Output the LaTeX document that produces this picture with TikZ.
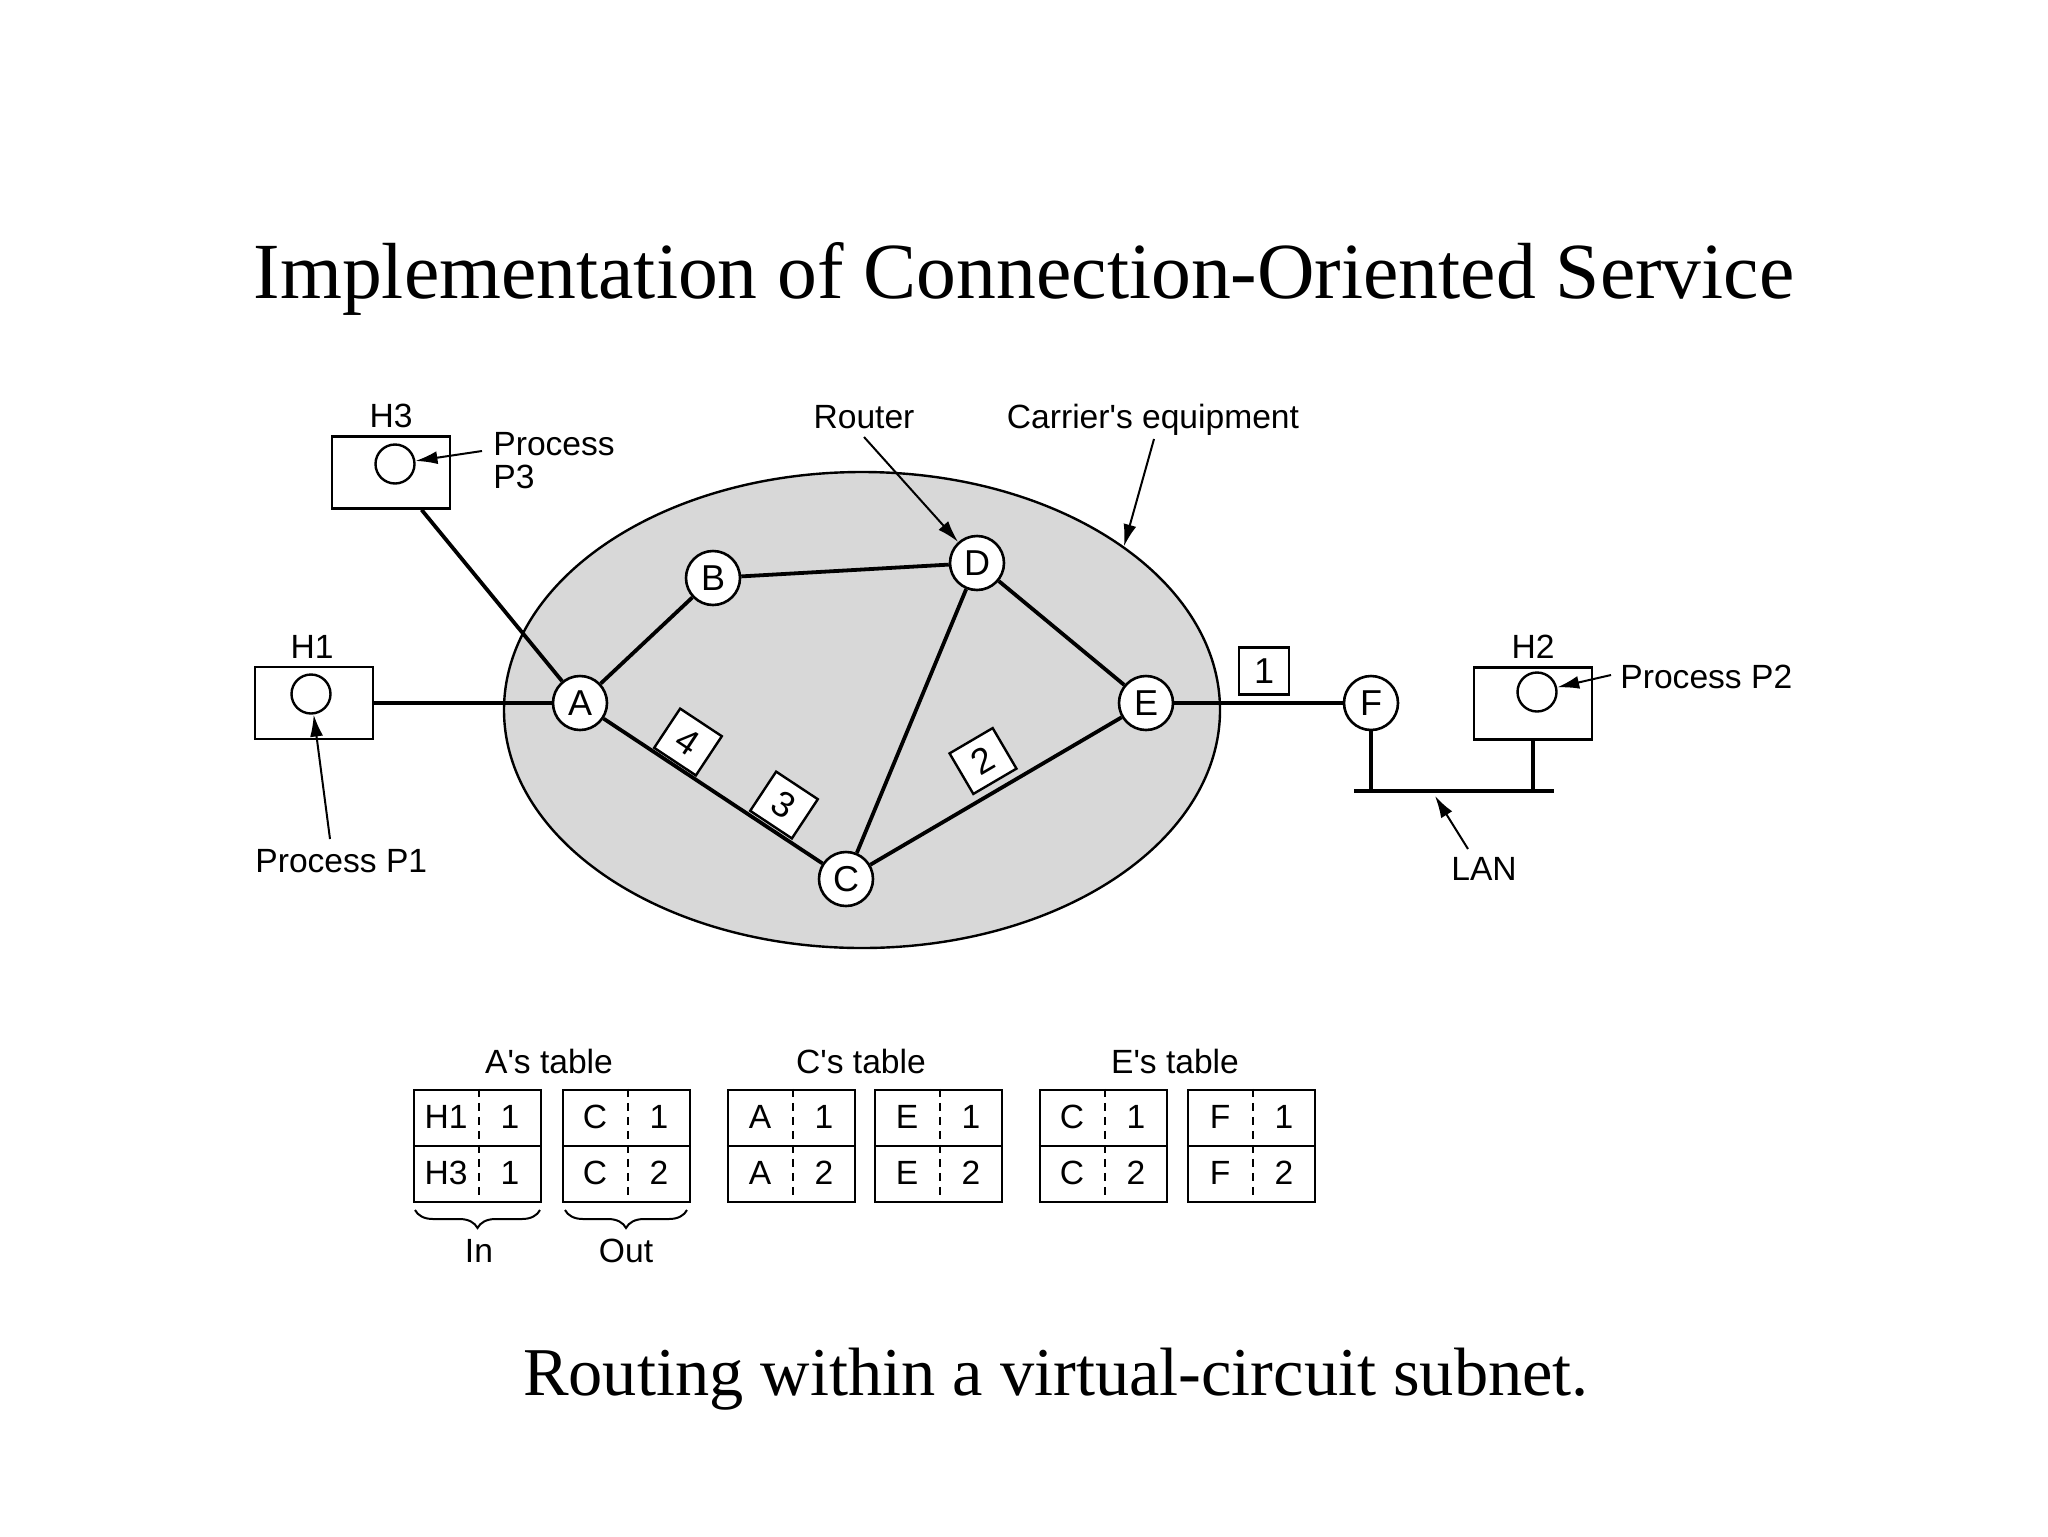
\documentclass[tikz,border=0pt]{standalone}
\usepackage{fontspec}
\setmainfont{Liberation Serif}
\newfontfamily\labfont{Liberation Sans}
\usetikzlibrary{arrows.meta,shapes.geometric,decorations.pathreplacing}
\definecolor{cloud}{RGB}{216,216,216}
\newcommand\tblbox[6]{%
  \node[tbl] (#1) at (#2+63.5,1146) {};
  \draw[line width=1.2pt] (#1.west) -- (#1.east);
  \draw[line width=1pt, dash pattern=on 4pt off 3pt] ([xshift=0.5pt]#1.north) -- ([xshift=0.5pt]#1.south);
  \node[lab, anchor=base] (#1a) at (#2+32,1128) {#3};
  \node[lab, anchor=base] (#1b) at (#2+96,1128) {#4};
  \node[lab, anchor=base] (#1c) at (#2+32,1184) {#5};
  \node[lab, anchor=base] (#1d) at (#2+96,1184) {#6};
}
\begin{document}
\begin{tikzpicture}[x=0.5pt,y=-0.5pt,
  lab/.style={font=\labfont\fontsize{16.8}{16.5}\selectfont, inner sep=0pt},
  router/.style={circle, draw, fill=white, line width=1.3pt, minimum size=27pt, inner sep=0pt, font=\labfont\fontsize{18}{18}\selectfont},
  host/.style={draw, line width=1.3pt, minimum width=59pt, minimum height=36pt, inner sep=0pt},
  proc/.style={circle, draw, line width=1.2pt, minimum size=19.5pt, inner sep=0pt},
  pkt/.style={draw, fill=white, line width=1.2pt, minimum width=25pt, minimum height=23.5pt, inner sep=0pt, font=\labfont\fontsize{18}{18}\selectfont},
  link/.style={line width=1.9pt},
  arr/.style={line width=1pt, -{Latex[length=11pt,width=6.5pt]}},
  tbl/.style={draw, line width=1.2pt, minimum width=63.5pt, minimum height=56pt, inner sep=0pt}
]
\useasboundingbox (0,0) rectangle (2048,1536);

% title and caption
\node[font=\fontsize{39.8}{39.8}\selectfont, anchor=base, inner sep=0pt] (title) at (1024,298) {Implementation of Connection-Oriented Service};
\node[font=\fontsize{34.2}{34.2}\selectfont, anchor=base, inner sep=0pt] (caption) at (1056,1395) {Routing within a virtual-circuit subnet.};

% carrier's equipment
\node[ellipse, draw, fill=cloud, line width=1.2pt, minimum width=358pt, minimum height=238pt, inner sep=0pt] (carrier) at (862,710) {};

% routers
\node[router] (A) at (580,703) {A};
\node[router] (B) at (713,578) {B};
\node[router] (D) at (977,563) {D};
\node[router] (E) at (1146,703) {E};
\node[router] (C) at (846,879) {C};
\node[router] (F) at (1371,703) {F};

% hosts
\node[host] (H1) at (314,703) {};
\node[host] (H3) at (391,472.5) {};
\node[host] (H2) at (1533,703.5) {};
\node[proc] (h1c) at (311,694) {};
\node[proc] (h3c) at (395,464) {};
\node[proc] (h2c) at (1537,692) {};
\node[lab, anchor=base] (H1lab) at (312,658) {H1};
\node[lab, anchor=base] (H3lab) at (391,427) {H3};
\node[lab, anchor=base] (H2lab) at (1533,658) {H2};

% links
\draw[link] (H1) -- (A);
\draw[link] (H3) -- (A);
\draw[link] (A) -- (B);
\draw[link] (B) -- (D);
\draw[link] (D) -- (E);
\draw[link] (D) -- (C);
\draw[link] (A) -- (C);
\draw[link] (C) -- (E);
\draw[link] (E) -- (F);

% LAN
\coordinate (lanL) at (1354,791);
\coordinate (lanR) at (1554,791);
\draw[link] (lanL) -- (lanR);
\draw[link] (F) -- (F |- lanL);
\draw[link] (H2.south) -- (H2.south |- lanL);

% packets
\node[pkt] (p1) at (1264,671) {1};
\node[pkt, rotate=30.4] (p2) at (983,761) {2};
\node[pkt, rotate=-33.5] (p3) at (784,805) {3};
\node[pkt, rotate=-33.5] (p4) at (688,742) {4};

% annotations
\node[lab, anchor=base west] (P3lab) at (493,455) {\begin{tabular}[t]{@{}l@{}}Process\\P3\end{tabular}};
\node[lab, anchor=base west] (P1lab) at (255,872) {Process P1};
\node[lab, anchor=base west] (P2lab) at (1620,688) {Process P2};
\node[lab, anchor=base] (Routerlab) at (864,428) {Router};
\node[lab, anchor=base] (Carrlab) at (1153,428) {Carrier's equipment};
\node[lab, anchor=base] (LANlab) at (1484,880) {LAN};

\coordinate (p3t) at (482,451);
\coordinate (p1t) at (330,839);
\coordinate (p2t) at (1611,675);
\coordinate (rtt) at (864,437);
\coordinate (cet) at (1154,439);
\coordinate (lant) at (1468,849);
\coordinate (lantip) at (1435,796);
\draw[arr] (p3t) -- (h3c);
\draw[arr] (p1t) -- (h1c);
\draw[arr] (p2t) -- (h2c);
\draw[arr] (rtt) -- (D);
\draw[arr] (cet) -- (carrier.32);
\draw[arr] (lant) -- (lantip);

% tables
\node[lab, anchor=base] (Atab) at (549,1073) {A's table};
\node[lab, anchor=base] (Ctab) at (861,1073) {C's table};
\node[lab, anchor=base] (Etab) at (1175,1073) {E's table};
\tblbox{ai}{414}{H1}{1}{H3}{1}
\tblbox{ao}{563}{C}{1}{C}{2}
\tblbox{ci}{728}{A}{1}{A}{2}
\tblbox{co}{875}{E}{1}{E}{2}
\tblbox{ei}{1040}{C}{1}{C}{2}
\tblbox{eo}{1188}{F}{1}{F}{2}

\draw[line width=1pt, decorate, decoration={brace, mirror, amplitude=9pt}] (415,1210) -- (540,1210);
\draw[line width=1pt, decorate, decoration={brace, mirror, amplitude=9pt}] (565,1210) -- (687,1210);
\node[lab, anchor=base] (Inlab) at (479,1262) {In};
\node[lab, anchor=base] (Outlab) at (626,1262) {Out};
\end{tikzpicture}
\end{document}
